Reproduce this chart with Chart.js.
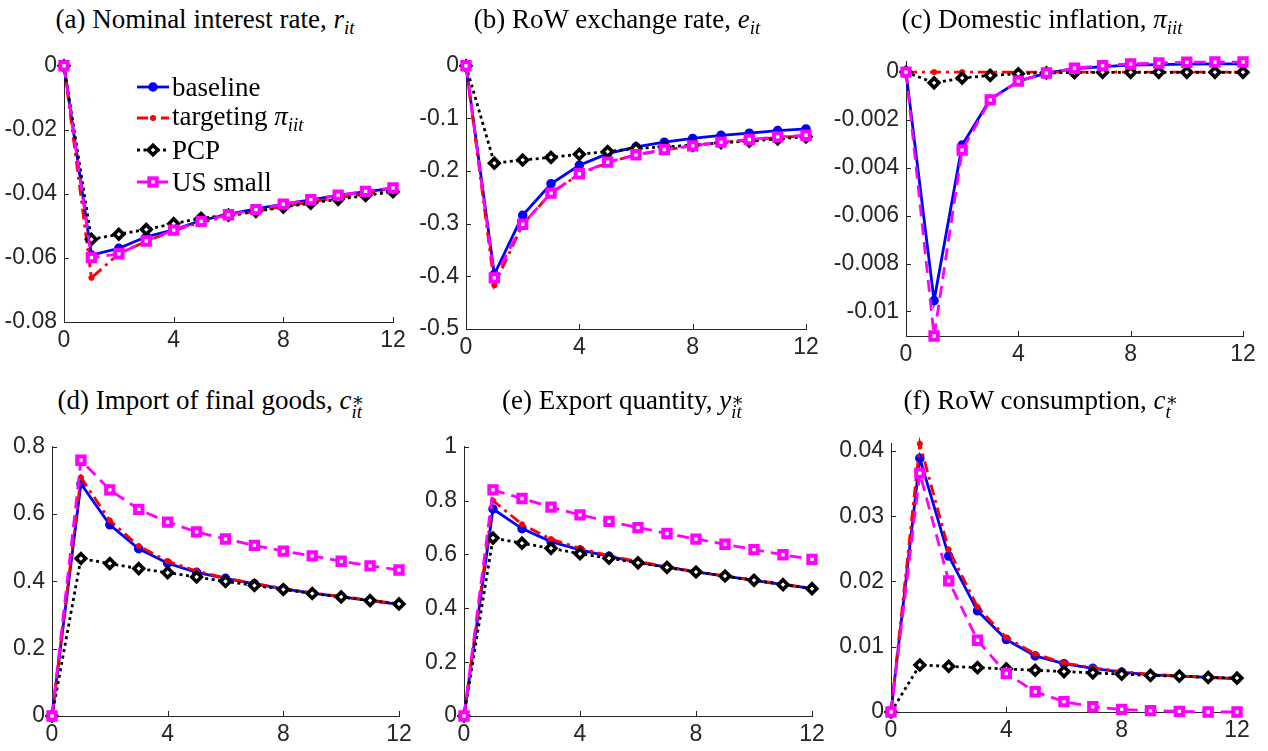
<!DOCTYPE html>
<html>
<head>
<meta charset="utf-8">
<script src="https://cdn.jsdelivr.net/npm/chart.js@4.4.1/dist/chart.umd.min.js"></script>
<style>
  html, body { margin: 0; padding: 0; background: #fff; }
  #root { position: relative; width: 1268px; height: 751px; overflow: hidden; background: #fff; }
  canvas { position: absolute; }
  .ttl { position: absolute; font-family: "Liberation Serif", "DejaVu Serif", serif; font-size: 27px; color: #000;
         white-space: nowrap; transform: translateX(-50%); line-height: 30px; }
  .ttl i, .leg i { font-style: italic; }
  .sub { font-size: 0.7em; vertical-align: -0.3em; font-style: italic; }
  .ss { display: inline-block; vertical-align: -0.45em; line-height: 0.62em; font-size: 0.7em; font-style: italic; text-align: left; }
  .ss span { display: block; }
  .leg { position: absolute; font-family: "Liberation Serif", "DejaVu Serif", serif; font-size: 27px; color: #000;
         white-space: nowrap; display: flex; align-items: center; height: 30px; }
  .leg svg { margin-right: 3px; }
</style>
</head>
<body>
<div id="root"></div>
<script>
// ---------------- data ----------------
const periods = [0, 1, 2, 3, 4, 5, 6, 7, 8, 9, 10, 11, 12];
const xTicks = [0, 4, 8, 12];
const xTickLabels = ['0', '4', '8', '12'];

const seriesNames = ['baseline', 'targeting', 'PCP', 'US small'];

// (a) Nominal interest rate
const rateBaseline  = [0, -0.0591, -0.0570, -0.0534, -0.0512, -0.0483, -0.0463, -0.0447, -0.0432, -0.0419, -0.0405, -0.0393, -0.0383];
const rateTargeting = [0, -0.0662, -0.0587, -0.0548, -0.0515, -0.0488, -0.0470, -0.0454, -0.0439, -0.0425, -0.0412, -0.0400, -0.0389];
const ratePCP       = [0, -0.0542, -0.0526, -0.0511, -0.0493, -0.0476, -0.0466, -0.0455, -0.0441, -0.0429, -0.0417, -0.0405, -0.0393];
const rateUSsmall   = [0, -0.0599, -0.0587, -0.0547, -0.0513, -0.0486, -0.0465, -0.0449, -0.0432, -0.0418, -0.0404, -0.0392, -0.0381];
const rateTicks  = [-0.08, -0.06, -0.04, -0.02, 0];
const rateLabels = ['-0.08', '-0.06', '-0.04', '-0.02', '0'];

// (b) RoW exchange rate
const exchBaseline  = [0, -0.396, -0.284, -0.224, -0.189, -0.167, -0.154, -0.145, -0.138, -0.132, -0.128, -0.123, -0.120];
const exchTargeting = [0, -0.417, -0.301, -0.242, -0.206, -0.184, -0.169, -0.160, -0.152, -0.146, -0.141, -0.136, -0.133];
const exchPCP       = [0, -0.185, -0.179, -0.174, -0.168, -0.163, -0.157, -0.154, -0.151, -0.146, -0.143, -0.139, -0.135];
const exchUSsmall   = [0, -0.403, -0.301, -0.242, -0.205, -0.183, -0.169, -0.159, -0.152, -0.145, -0.140, -0.135, -0.132];
const exchTicks  = [-0.5, -0.4, -0.3, -0.2, -0.1, 0];
const exchLabels = ['-0.5', '-0.4', '-0.3', '-0.2', '-0.1', '0'];

// (c) Domestic inflation
const inflBaseline  = [0, -0.00955, -0.00305, -0.00114, -0.00038, -0.00004, 0.00014, 0.00023, 0.00029, 0.00031, 0.00033, 0.00034, 0.00034];
const inflTargeting = [0, 0, 0, 0, 0, 0, 0, 0, 0, 0, 0, 0, 0];
const inflPCP       = [0, -0.00045, -0.00025, -0.00014, -0.00007, -0.00003, -0.00002, -0.00001, -0.00001, -0.00001, -0.00001, -0.00001, -0.00001];
const inflUSsmall   = [0, -0.01103, -0.00326, -0.00116, -0.00038, -0.00004, 0.00016, 0.00027, 0.00034, 0.00038, 0.00041, 0.00042, 0.00042];
const inflTicks  = [-0.01, -0.008, -0.006, -0.004, -0.002, 0];
const inflLabels = ['-0.01', '-0.008', '-0.006', '-0.004', '-0.002', '0'];

// (d) Import of final goods
const importBaseline  = [0, 0.690, 0.568, 0.497, 0.454, 0.427, 0.409, 0.393, 0.378, 0.365, 0.354, 0.343, 0.332];
const importTargeting = [0, 0.709, 0.581, 0.505, 0.460, 0.431, 0.410, 0.394, 0.379, 0.366, 0.355, 0.344, 0.333];
const importPCP       = [0, 0.468, 0.453, 0.438, 0.426, 0.413, 0.400, 0.388, 0.376, 0.364, 0.354, 0.343, 0.333];
const importUSsmall   = [0, 0.760, 0.672, 0.614, 0.576, 0.547, 0.526, 0.507, 0.490, 0.476, 0.460, 0.446, 0.434];
const importTicks  = [0, 0.2, 0.4, 0.6, 0.8];
const importLabels = ['0', '0.2', '0.4', '0.6', '0.8'];

// (e) Export quantity
const exportBaseline  = [0, 0.769, 0.696, 0.648, 0.617, 0.593, 0.571, 0.553, 0.535, 0.520, 0.504, 0.488, 0.474];
const exportTargeting = [0, 0.800, 0.712, 0.657, 0.623, 0.595, 0.574, 0.554, 0.536, 0.520, 0.505, 0.490, 0.474];
const exportPCP       = [0, 0.661, 0.642, 0.623, 0.603, 0.586, 0.569, 0.552, 0.535, 0.520, 0.504, 0.488, 0.473];
const exportUSsmall   = [0, 0.840, 0.808, 0.776, 0.747, 0.723, 0.700, 0.678, 0.657, 0.638, 0.618, 0.599, 0.582];
const exportTicks  = [0, 0.2, 0.4, 0.6, 0.8, 1];
const exportLabels = ['0', '0.2', '0.4', '0.6', '0.8', '1'];

// (f) RoW consumption
const consBaseline  = [0, 0.0389, 0.0239, 0.0155, 0.0111, 0.0086, 0.0074, 0.0067, 0.0061, 0.0057, 0.0055, 0.0053, 0.0051];
const consTargeting = [0, 0.0411, 0.0249, 0.0161, 0.0114, 0.0089, 0.0075, 0.0068, 0.0062, 0.0058, 0.0055, 0.0053, 0.0051];
const consPCP       = [0, 0.0072, 0.0070, 0.0068, 0.0066, 0.0064, 0.0062, 0.0060, 0.0058, 0.0056, 0.0055, 0.0053, 0.0052];
const consUSsmall   = [0, 0.0366, 0.0201, 0.0110, 0.0059, 0.0031, 0.0016, 0.0008, 0.0004, 0.0002, 0.0001, 0.0000, 0.0000];
const consTicks  = [0, 0.01, 0.02, 0.03, 0.04];
const consLabels = ['0', '0.01', '0.02', '0.03', '0.04'];

// ---------------- styles ----------------
const AXIS = '#262626';
const LINE_W = 2.8;
const STY = [
  { color: '#0000ff', dash: [],            pointStyle: 'circle',  radius: 4,   fill: '#0000ff', bw: 1.5, order: 4 },
  { color: '#ff0000', dash: [11, 5, 3, 5], pointStyle: 'circle',  radius: 2.6, fill: '#ff0000', bw: 1,   order: 3 },
  { color: '#000000', dash: [3, 3.5],      pointStyle: 'rectRot', radius: 4.8, fill: '#ffffff', bw: 3.6, order: 2 },
  { color: '#ff00ff', dash: [12, 7],       pointStyle: 'rect',    radius: 5.2, fill: '#ffffff', bw: 4,   order: 1 }
];

const inwardTicks = {
  id: 'inwardTicks',
  beforeDatasetsDraw(chart) {
    const { ctx, chartArea: a, scales: { x, y } } = chart;
    ctx.save();
    ctx.strokeStyle = AXIS; ctx.lineWidth = 1;
    x.ticks.forEach(t => {
      const px = Math.round(x.getPixelForValue(t.value)) + 0.5;
      ctx.beginPath(); ctx.moveTo(px, a.bottom); ctx.lineTo(px, a.bottom - 5); ctx.stroke();
    });
    y.ticks.forEach(t => {
      const py = Math.round(y.getPixelForValue(t.value)) + 0.5;
      ctx.beginPath(); ctx.moveTo(a.left, py); ctx.lineTo(a.left + 5, py); ctx.stroke();
    });
    ctx.restore();
  }
};

const root = document.getElementById('root');

function makePanel(area, yMin, yMax, yTicks, yLabels, seriesList) {
  const yW = 80, padT = 16, padR = 24, xH = 38;
  const W = Math.round(area.r - area.l) + yW + padR;
  const H = Math.round(area.b - area.t) + padT + xH;
  const cv = document.createElement('canvas');
  cv.width = W; cv.height = H;
  cv.style.width = W + 'px'; cv.style.height = H + 'px';
  cv.style.left = Math.round(area.l - yW) + 'px';
  cv.style.top = Math.round(area.t - padT) + 'px';
  root.appendChild(cv);
  const datasets = seriesList.map((vals, i) => ({
    label: seriesNames[i],
    data: periods.map((p, k) => ({ x: p, y: vals[k] })),
    borderColor: STY[i].color,
    borderWidth: LINE_W,
    borderDash: STY[i].dash,
    pointStyle: STY[i].pointStyle,
    pointRadius: STY[i].radius,
    pointBackgroundColor: STY[i].fill,
    pointBorderColor: STY[i].color,
    pointBorderWidth: STY[i].bw,
    tension: 0,
    fill: false,
    clip: false,
    order: STY[i].order
  }));
  new Chart(cv, {
    type: 'line',
    data: { datasets },
    options: {
      responsive: false, animation: false, devicePixelRatio: 1,
      events: [],
      layout: { padding: { top: padT, right: padR, left: 0, bottom: 0 } },
      plugins: { legend: { display: false }, tooltip: { enabled: false }, title: { display: false } },
      scales: {
        x: {
          type: 'linear', min: 0, max: 12,
          afterBuildTicks: s => { s.ticks = xTicks.map(v => ({ value: v })); },
          afterFit: s => { s.height = xH; },
          grid: { display: false, drawTicks: false },
          border: { display: true, color: AXIS, width: 1 },
          ticks: { callback: (v, i) => xTickLabels[i], color: AXIS, padding: 5, maxRotation: 0,
                   font: { family: '"Liberation Sans", Arial, sans-serif', size: 23 } }
        },
        y: {
          type: 'linear', min: yMin, max: yMax,
          afterBuildTicks: s => { s.ticks = yTicks.map(v => ({ value: v })); },
          afterFit: s => { s.width = yW; },
          grid: { display: false, drawTicks: false },
          border: { display: true, color: AXIS, width: 1 },
          ticks: { callback: (v, i) => yLabels[i], color: AXIS, padding: 7,
                   font: { family: '"Liberation Sans", Arial, sans-serif', size: 23 } }
        }
      }
    },
    plugins: [inwardTicks]
  });
}

makePanel({ l: 64, t: 61, r: 393, b: 322 }, -0.08, 0, rateTicks, rateLabels,
  [rateBaseline, rateTargeting, ratePCP, rateUSsmall]);
makePanel({ l: 466, t: 61, r: 806, b: 329 }, -0.5, 0, exchTicks, exchLabels,
  [exchBaseline, exchTargeting, exchPCP, exchUSsmall]);
makePanel({ l: 906, t: 57, r: 1243, b: 336 }, -0.01103, 0.00043, inflTicks, inflLabels,
  [inflBaseline, inflTargeting, inflPCP, inflUSsmall]);
makePanel({ l: 52, t: 442, r: 399, b: 716 }, 0, 0.8, importTicks, importLabels,
  [importBaseline, importTargeting, importPCP, importUSsmall]);
makePanel({ l: 464, t: 442, r: 812, b: 716 }, 0, 1, exportTicks, exportLabels,
  [exportBaseline, exportTargeting, exportPCP, exportUSsmall]);
makePanel({ l: 891, t: 439, r: 1237, b: 712 }, 0, 0.0411, consTicks, consLabels,
  [consBaseline, consTargeting, consPCP, consUSsmall]);

// ---------------- titles ----------------
const titles = [
  { cx: 205, top: 4,   html: '(a) Nominal interest rate, <i>r</i><span class="sub">it</span>' },
  { cx: 617, top: 4,   html: '(b) RoW exchange rate, <i>e</i><span class="sub">it</span>' },
  { cx: 1042, top: 4,  html: '(c) Domestic inflation, <i>π</i><span class="sub">iit</span>' },
  { cx: 211, top: 385, html: '(d) Import of final goods, <i>c</i><span class="ss"><span>∗</span><span>it</span></span>' },
  { cx: 623, top: 385, html: '(e) Export quantity, <i>y</i><span class="ss"><span>∗</span><span>it</span></span>' },
  { cx: 1041, top: 385, html: '(f) RoW consumption, <i>c</i><span class="ss"><span>∗</span><span>t</span></span>' }
];
titles.forEach(t => {
  const d = document.createElement('div');
  d.className = 'ttl';
  d.style.left = t.cx + 'px'; d.style.top = t.top + 'px';
  d.innerHTML = t.html;
  root.appendChild(d);
});

// ---------------- legend ----------------
const legendTexts = ['baseline', 'targeting <i>π</i><span class="sub">iit</span>', 'PCP', 'US small'];
const legendRows = [87, 118, 150, 182];
function markerSvg(i) {
  const s = STY[i];
  const dash = s.dash.length ? `stroke-dasharray="${s.dash.join(' ')}"` : '';
  let m = '';
  if (s.pointStyle === 'circle') m = `<circle cx="16" cy="9" r="${s.radius}" fill="${s.fill}" stroke="${s.color}" stroke-width="${s.bw}"/>`;
  if (s.pointStyle === 'rectRot') m = `<polygon points="16,${9 - s.radius} ${16 + s.radius},9 16,${9 + s.radius} ${16 - s.radius},9" fill="${s.fill}" stroke="${s.color}" stroke-width="${s.bw}"/>`;
  if (s.pointStyle === 'rect') { const h = s.radius * Math.SQRT1_2; m = `<rect x="${16 - h}" y="${9 - h}" width="${2 * h}" height="${2 * h}" fill="${s.fill}" stroke="${s.color}" stroke-width="${s.bw}"/>`; }
  return `<svg width="32" height="18" viewBox="0 0 32 18"><line x1="0" y1="9" x2="32" y2="9" stroke="${s.color}" stroke-width="${LINE_W}" ${dash}/>${m}</svg>`;
}
legendTexts.forEach((txt, i) => {
  const d = document.createElement('div');
  d.className = 'leg';
  d.style.left = '137px'; d.style.top = (legendRows[i] - 15) + 'px';
  d.innerHTML = markerSvg(i) + '<span>' + txt + '</span>';
  root.appendChild(d);
});
</script>
</body>
</html>
